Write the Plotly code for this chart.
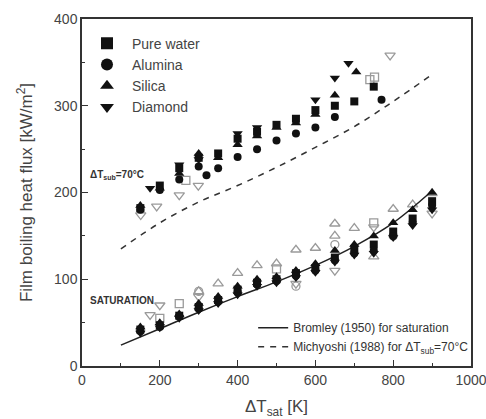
import plotly.graph_objects as go

# ---------------- data ----------------
# Subcooled (dT_sub = 70 C), filled markers
sub_water_x = [150, 200, 250, 300, 350, 400, 450, 500, 550, 600, 650, 700, 750]
sub_water_y = [182, 208, 228, 240, 245, 262, 270, 278, 285, 295, 300, 305, 322]
sub_alum_x = [150, 200, 250, 300, 320, 350, 400, 450, 500, 550, 600, 650, 770]
sub_alum_y = [180, 203, 215, 230, 220, 228, 241, 250, 260, 268, 275, 287, 307]
sub_sil_x = [150, 200, 250, 300, 350, 400, 450, 500, 550, 600, 650, 705]
sub_sil_y = [185, 205, 222, 245, 240, 255, 265, 275, 280, 290, 312, 339]
sub_dia_x = [175, 250, 300, 400, 450, 600, 650, 685]
sub_dia_y = [205, 232, 238, 268, 275, 307, 332, 349]
# Subcooled, open markers
sub_open_sq_x = [267, 740, 752]
sub_open_sq_y = [214, 330, 333]
sub_open_dt_x = [151, 192, 250, 299, 792]
sub_open_dt_y = [174, 184, 197, 208, 358]

# Saturation, filled markers
sat_x = [150, 200, 250, 300, 350, 400, 450, 500, 550, 600, 650, 700, 750, 800, 850, 900]
sat_water_y = [42, 47, 58, 68, 76, 88, 96, 100, 107, 113, 125, 135, 140, 155, 170, 190]
sat_alum_y = [40, 45, 57, 66, 74, 85, 94, 98, 104, 110, 122, 130, 133, 150, 165, 185]
sat_sil_y = [45, 50, 60, 72, 80, 92, 100, 103, 110, 118, 133, 140, 150, 165, 180, 200]
sat_dia_y = [38, 44, 55, 64, 72, 82, 92, 96, 102, 108, 120, 128, 130, 148, 162, 180]
# Saturation, open markers
sat_open_tri_x = [300, 350, 400, 450, 500, 550, 600, 650, 650, 700, 750, 800, 850, 900]
sat_open_tri_y = [86, 95, 107, 116, 118, 134, 136, 164, 150, 159, 126, 181, 186, 199]
sat_open_dt_x = [175, 200, 300, 550, 650, 750, 900]
sat_open_dt_y = [59, 70, 80, 95, 110, 160, 176]
sat_open_sq_x = [200, 250, 500, 750]
sat_open_sq_y = [55, 72, 112, 165]
sat_open_ci_x = [300, 550, 650, 800]
sat_open_ci_y = [86, 92, 140, 150]

# Correlations
bromley_x = [100, 200, 300, 400, 500, 600, 700, 800, 900]
bromley_y = [24, 43, 62, 80, 97, 116, 138, 165, 202]
michi_x = [100, 200, 300, 400, 500, 600, 700, 800, 900]
michi_y = [135, 165, 189, 208, 229, 252, 276, 305, 336]

x_ticks = [0, 200, 400, 600, 800, 1000]
y_ticks = [0, 100, 200, 300, 400]

# ---------------- figure ----------------
BLACK = "#111111"
GRAY = "#9a9a9a"

fig = go.Figure()

def filled(x, y, sym, name, show, size=8):
    fig.add_trace(go.Scatter(
        x=x, y=y, mode="markers", name=name, showlegend=show, legend="legend",
        marker=dict(symbol=sym, size=size, color=BLACK, line=dict(width=0))))

def opened(x, y, sym, size=8):
    fig.add_trace(go.Scatter(
        x=x, y=y, mode="markers", showlegend=False,
        marker=dict(symbol=sym + "-open", size=size, color=GRAY,
                    line=dict(width=1.3, color=GRAY))))

# open markers first (behind)
opened(sub_open_sq_x, sub_open_sq_y, "square")
opened(sub_open_dt_x, sub_open_dt_y, "triangle-down", 9)
opened(sat_open_tri_x, sat_open_tri_y, "triangle-up", 9)
opened(sat_open_dt_x, sat_open_dt_y, "triangle-down", 9)
opened(sat_open_sq_x, sat_open_sq_y, "square")
opened(sat_open_ci_x, sat_open_ci_y, "circle")

# correlations
fig.add_trace(go.Scatter(x=bromley_x, y=bromley_y, mode="lines", line_shape="spline",
                         name="Bromley (1950) for saturation", legend="legend2",
                         line=dict(color="#222222", width=1.5)))
fig.add_trace(go.Scatter(x=michi_x, y=michi_y, mode="lines", line_shape="spline",
                         name="Michyoshi (1988) for ΔT<sub>sub</sub>=70°C", legend="legend2",
                         line=dict(color="#333333", width=1.5, dash="6px,6px")))

# filled markers
filled(sub_water_x, sub_water_y, "square", "Pure water", True)
filled(sat_x, sat_water_y, "square", "Pure water", False)
filled(sub_alum_x, sub_alum_y, "circle", "Alumina", True)
filled(sat_x, sat_alum_y, "circle", "Alumina", False)
filled(sub_sil_x, sub_sil_y, "triangle-up", "Silica", True, 9)
filled(sat_x, sat_sil_y, "triangle-up", "Silica", False, 9)
filled(sub_dia_x, sub_dia_y, "triangle-down", "Diamond", True, 9)
filled(sat_x, sat_dia_y, "triangle-down", "Diamond", False, 9)

FONT = "Liberation Sans, Arial, sans-serif"

fig.update_layout(
    width=486, height=419,
    margin=dict(l=82, r=15, t=19, b=53, autoexpand=False),
    plot_bgcolor="white", paper_bgcolor="white",
    font=dict(family=FONT, size=14, color="#444444"),
    legend=dict(x=0.0, y=0.975, xanchor="left", yanchor="top",
                bgcolor="rgba(0,0,0,0)", font=dict(size=14, color="#444444"),
                tracegroupgap=0, itemsizing="constant", traceorder="normal",
                itemwidth=40),
    legend2=dict(x=0.44, y=0.014, xanchor="left", yanchor="bottom",
                 bgcolor="rgba(0,0,0,0)", font=dict(size=12, color="#333333"),
                 tracegroupgap=0, itemwidth=30),
    xaxis=dict(range=[0, 1000], tickvals=x_ticks, ticks="inside", ticklen=6,
               tickcolor="#333333", showline=True, linecolor="#333333", linewidth=1.5,
               mirror=True, showgrid=False, zeroline=False, automargin=False,
               ticklabeloverflow="allow",
               minor=dict(tickvals=[100, 300, 500, 700, 900], ticks="inside", ticklen=3,
                          tickcolor="#333333"),
               title=dict(text="ΔT<sub>sat</sub> [K]", font=dict(size=17), standoff=22)),
    yaxis=dict(range=[0, 400], tickvals=y_ticks, ticks="inside", ticklen=6,
               tickcolor="#333333", showline=True, linecolor="#333333", linewidth=1.5,
               mirror=True, showgrid=False, zeroline=False, automargin=False,
               ticklabeloverflow="allow",
               minor=dict(tickvals=[50, 150, 250, 350], ticks="inside", ticklen=3,
                          tickcolor="#333333"),
               title=dict(text="Film boiling heat flux [kW/m<sup>2</sup>]",
                          font=dict(size=17), standoff=17)),
)

fig.add_annotation(x=0.015, y=0.55, xref="paper", yref="paper", xanchor="left",
                   yanchor="middle", showarrow=False,
                   text="<b>ΔT<sub>sub</sub>=70°C</b>", font=dict(size=10, color="#333333"))
fig.add_annotation(x=0.015, y=0.19, xref="paper", yref="paper", xanchor="left",
                   yanchor="middle", showarrow=False,
                   text="<b>SATURATION</b>", font=dict(size=10, color="#333333"))

fig.write_html("out.html", config={"displayModeBar": False},
               post_script="document.body.style.margin='0';")
